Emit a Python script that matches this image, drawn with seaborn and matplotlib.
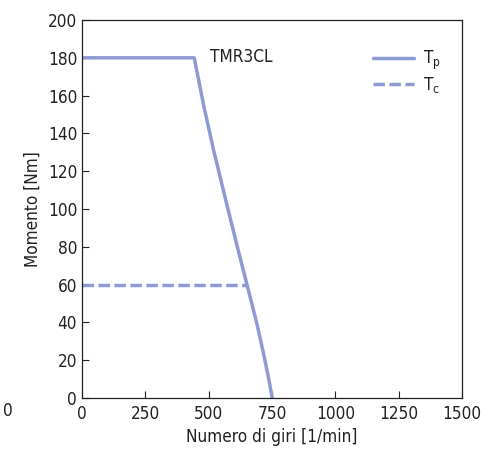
import matplotlib
matplotlib.use("Agg")
import matplotlib.pyplot as plt
import seaborn as sns
import pandas as pd

# Data
tp_rpm = [0, 443, 480, 518, 565, 615, 655, 690, 715, 735, 751]
tp_nm = [180, 180, 155, 132, 106, 79, 58, 39.5, 24.5, 11.5, 0]
tc_rpm = [0, 651]
tc_nm = [60, 60]
x_ticks = [0, 250, 500, 750, 1000, 1250, 1500]
y_ticks = list(range(0, 201, 20))
title_text = "TMR3CL"
xlabel = "Numero di giri [1/min]"
ylabel = "Momento [Nm]"

sns.set_style("ticks")
plt.rcParams['font.family'] = ['DejaVu Sans']
plt.rcParams['font.stretch'] = 'condensed'
color = "#8E9AD2"
txt = "#222222"
fs = 12.3

fig = plt.figure(figsize=(4.97, 4.55), dpi=100)
ax = fig.add_axes([82/497, 1 - 398/455, (462-82)/497, (398-20)/455])

df_p = pd.DataFrame({"rpm": tp_rpm, "nm": tp_nm})
df_c = pd.DataFrame({"rpm": tc_rpm, "nm": tc_nm})
sns.lineplot(data=df_p, x="rpm", y="nm", ax=ax, color=color, lw=2.5,
             label="T$_\\mathregular{p}$", sort=False)
sns.lineplot(data=df_c, x="rpm", y="nm", ax=ax, color=color, lw=2.5,
             ls=(0, (3.3, 1.3)), label="T$_\\mathregular{c}$", sort=False)

ax.set_xlim(0, 1500)
ax.set_ylim(0, 200)
ax.set_xticks(x_ticks)
ax.set_yticks(y_ticks)
ax.tick_params(direction="in", length=5, width=0.8, labelsize=fs, colors=txt)
ax.tick_params(axis="x", pad=5)
for s in ax.spines.values():
    s.set_linewidth(0.9)
    s.set_color(txt)
ax.set_xlabel(xlabel, fontsize=fs, labelpad=4, color=txt)
ax.set_ylabel(ylabel, fontsize=fs, labelpad=4, color=txt)
ax.text(505, 180.5, title_text, fontsize=fs, ha="left", va="center", color=txt)

leg = ax.legend(loc="upper right", frameon=False, fontsize=fs, handlelength=2.4,
                handletextpad=0.5, labelspacing=0.18, borderaxespad=1.2,
                bbox_to_anchor=(1 + 6/380, 1 - 1/378))
for t in leg.get_texts():
    t.set_color(txt)

fig.text(3/497, 1 - 411/455, "0", fontsize=fs, ha="left", va="center", color=txt)

fig.savefig("out.png", dpi=100)
